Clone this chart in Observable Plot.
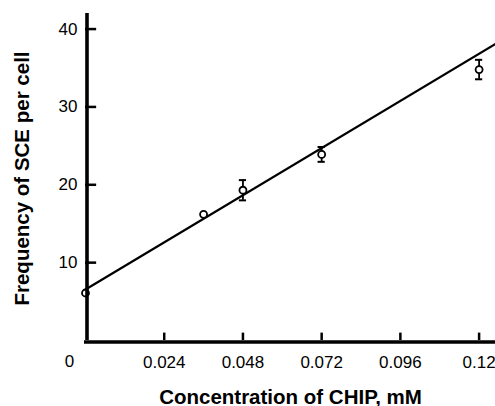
<!DOCTYPE html>
<html>
<head>
<meta charset="utf-8">
<script src="https://cdn.jsdelivr.net/npm/d3@7"></script>
<script src="https://cdn.jsdelivr.net/npm/@observablehq/plot@0.6"></script>
<style>
  html, body { margin: 0; padding: 0; background: #fff; }
  #chart svg { display: block; }
</style>
</head>
<body>
<div id="chart"></div>
<script>
// Data
const concentration = [0, 0.036, 0.048, 0.072, 0.12];      // mM
const sceFrequency  = [6.1, 16.2, 19.3, 23.9, 34.8];        // SCE per cell
const sceError      = [0, 0, 1.3, 0.95, 1.25];              // error bar half-length
const fitX = [0, 0.125];                                     // fitted line endpoints
const fitY = [6.55, 38.1];
const xTicks = [0.024, 0.048, 0.072, 0.096, 0.12];
const xTickLabels = ["0.024", "0.048", "0.072", "0.096", "0.12"];
const yTicks = [10, 20, 30, 40];
const xLabel = "Concentration of CHIP, mM";
const yLabel = "Frequency of SCE per cell";

const points = concentration.map((x, i) => ({x, y: sceFrequency[i], e: sceError[i]}));
const bars = points.filter(d => d.e > 0);
const fit = fitX.map((x, i) => ({x, y: fitY[i]}));

const capHalf = 0.0011;   // error-bar cap half width (x units)
const xTickLen = 0.95;    // tick length in y units
const yTickLen = 0.0034;  // tick length in x units

const FONT = "Liberation Sans, Arial, Helvetica, sans-serif";

const chart = Plot.plot({
  width: 495,
  height: 406,
  marginLeft: 85,
  marginRight: 0,
  marginTop: 13,
  marginBottom: 66,
  style: {fontFamily: FONT, background: "#fff", color: "#000", overflow: "hidden"},
  x: {domain: [0, 0.125]},
  y: {domain: [0, 42]},
  marks: [
    // fitted line
    Plot.line(fit, {x: "x", y: "y", stroke: "#000", strokeWidth: 2.2}),
    // error bars
    Plot.ruleX(bars, {x: "x", y1: d => d.y - d.e, y2: d => d.y + d.e, stroke: "#000", strokeWidth: 1.8}),
    Plot.ruleY(bars, {y: d => d.y + d.e, x1: d => d.x - capHalf, x2: d => d.x + capHalf, stroke: "#000", strokeWidth: 2}),
    Plot.ruleY(bars, {y: d => d.y - d.e, x1: d => d.x - capHalf, x2: d => d.x + capHalf, stroke: "#000", strokeWidth: 2}),
    // points
    Plot.dot(points, {x: "x", y: "y", r: 3.5, stroke: "#000", strokeWidth: 1.8, fill: "#fff"}),
    // axis lines
    Plot.ruleX([0], {x: d => d, y1: 0, y2: 42, stroke: "#000", strokeWidth: 3.6, dx: 1.5}),
    Plot.ruleY([0], {y: d => d, x1: 0, x2: 0.125, stroke: "#000", strokeWidth: 3.6, dy: 1.5, insetLeft: -1}),
    // inward ticks
    Plot.ruleX(xTicks, {x: d => d, y1: 0, y2: xTickLen, stroke: "#000", strokeWidth: 2.5}),
    Plot.ruleY(yTicks, {y: d => d, x1: 0, x2: yTickLen, stroke: "#000", strokeWidth: 2.5}),
    // tick labels
    Plot.axisX(xTicks, {tickSize: 0, tickPadding: 15, fontSize: 17, tickFormat: (d, i) => xTickLabels[i], label: null}),
    Plot.axisY(yTicks, {tickSize: 0, tickPadding: 8, fontSize: 17, label: null}),
    Plot.text(["0"], {x: 0, y: 0, text: d => d, dx: -16, dy: 21, fontSize: 17, lineAnchor: "middle"}),
    // axis titles
    Plot.text([xLabel], {frameAnchor: "bottom", text: d => d, dy: 63, lineAnchor: "bottom", textAnchor: "middle", fontSize: 20.5, fontWeight: "bold"}),
    Plot.text([yLabel], {frameAnchor: "left", text: d => d, dx: -57, dy: 1.5, rotate: -90, lineAnchor: "bottom", textAnchor: "middle", fontSize: 20.5, fontWeight: "bold"})
  ]
});
document.getElementById("chart").appendChild(chart);
</script>
</body>
</html>
